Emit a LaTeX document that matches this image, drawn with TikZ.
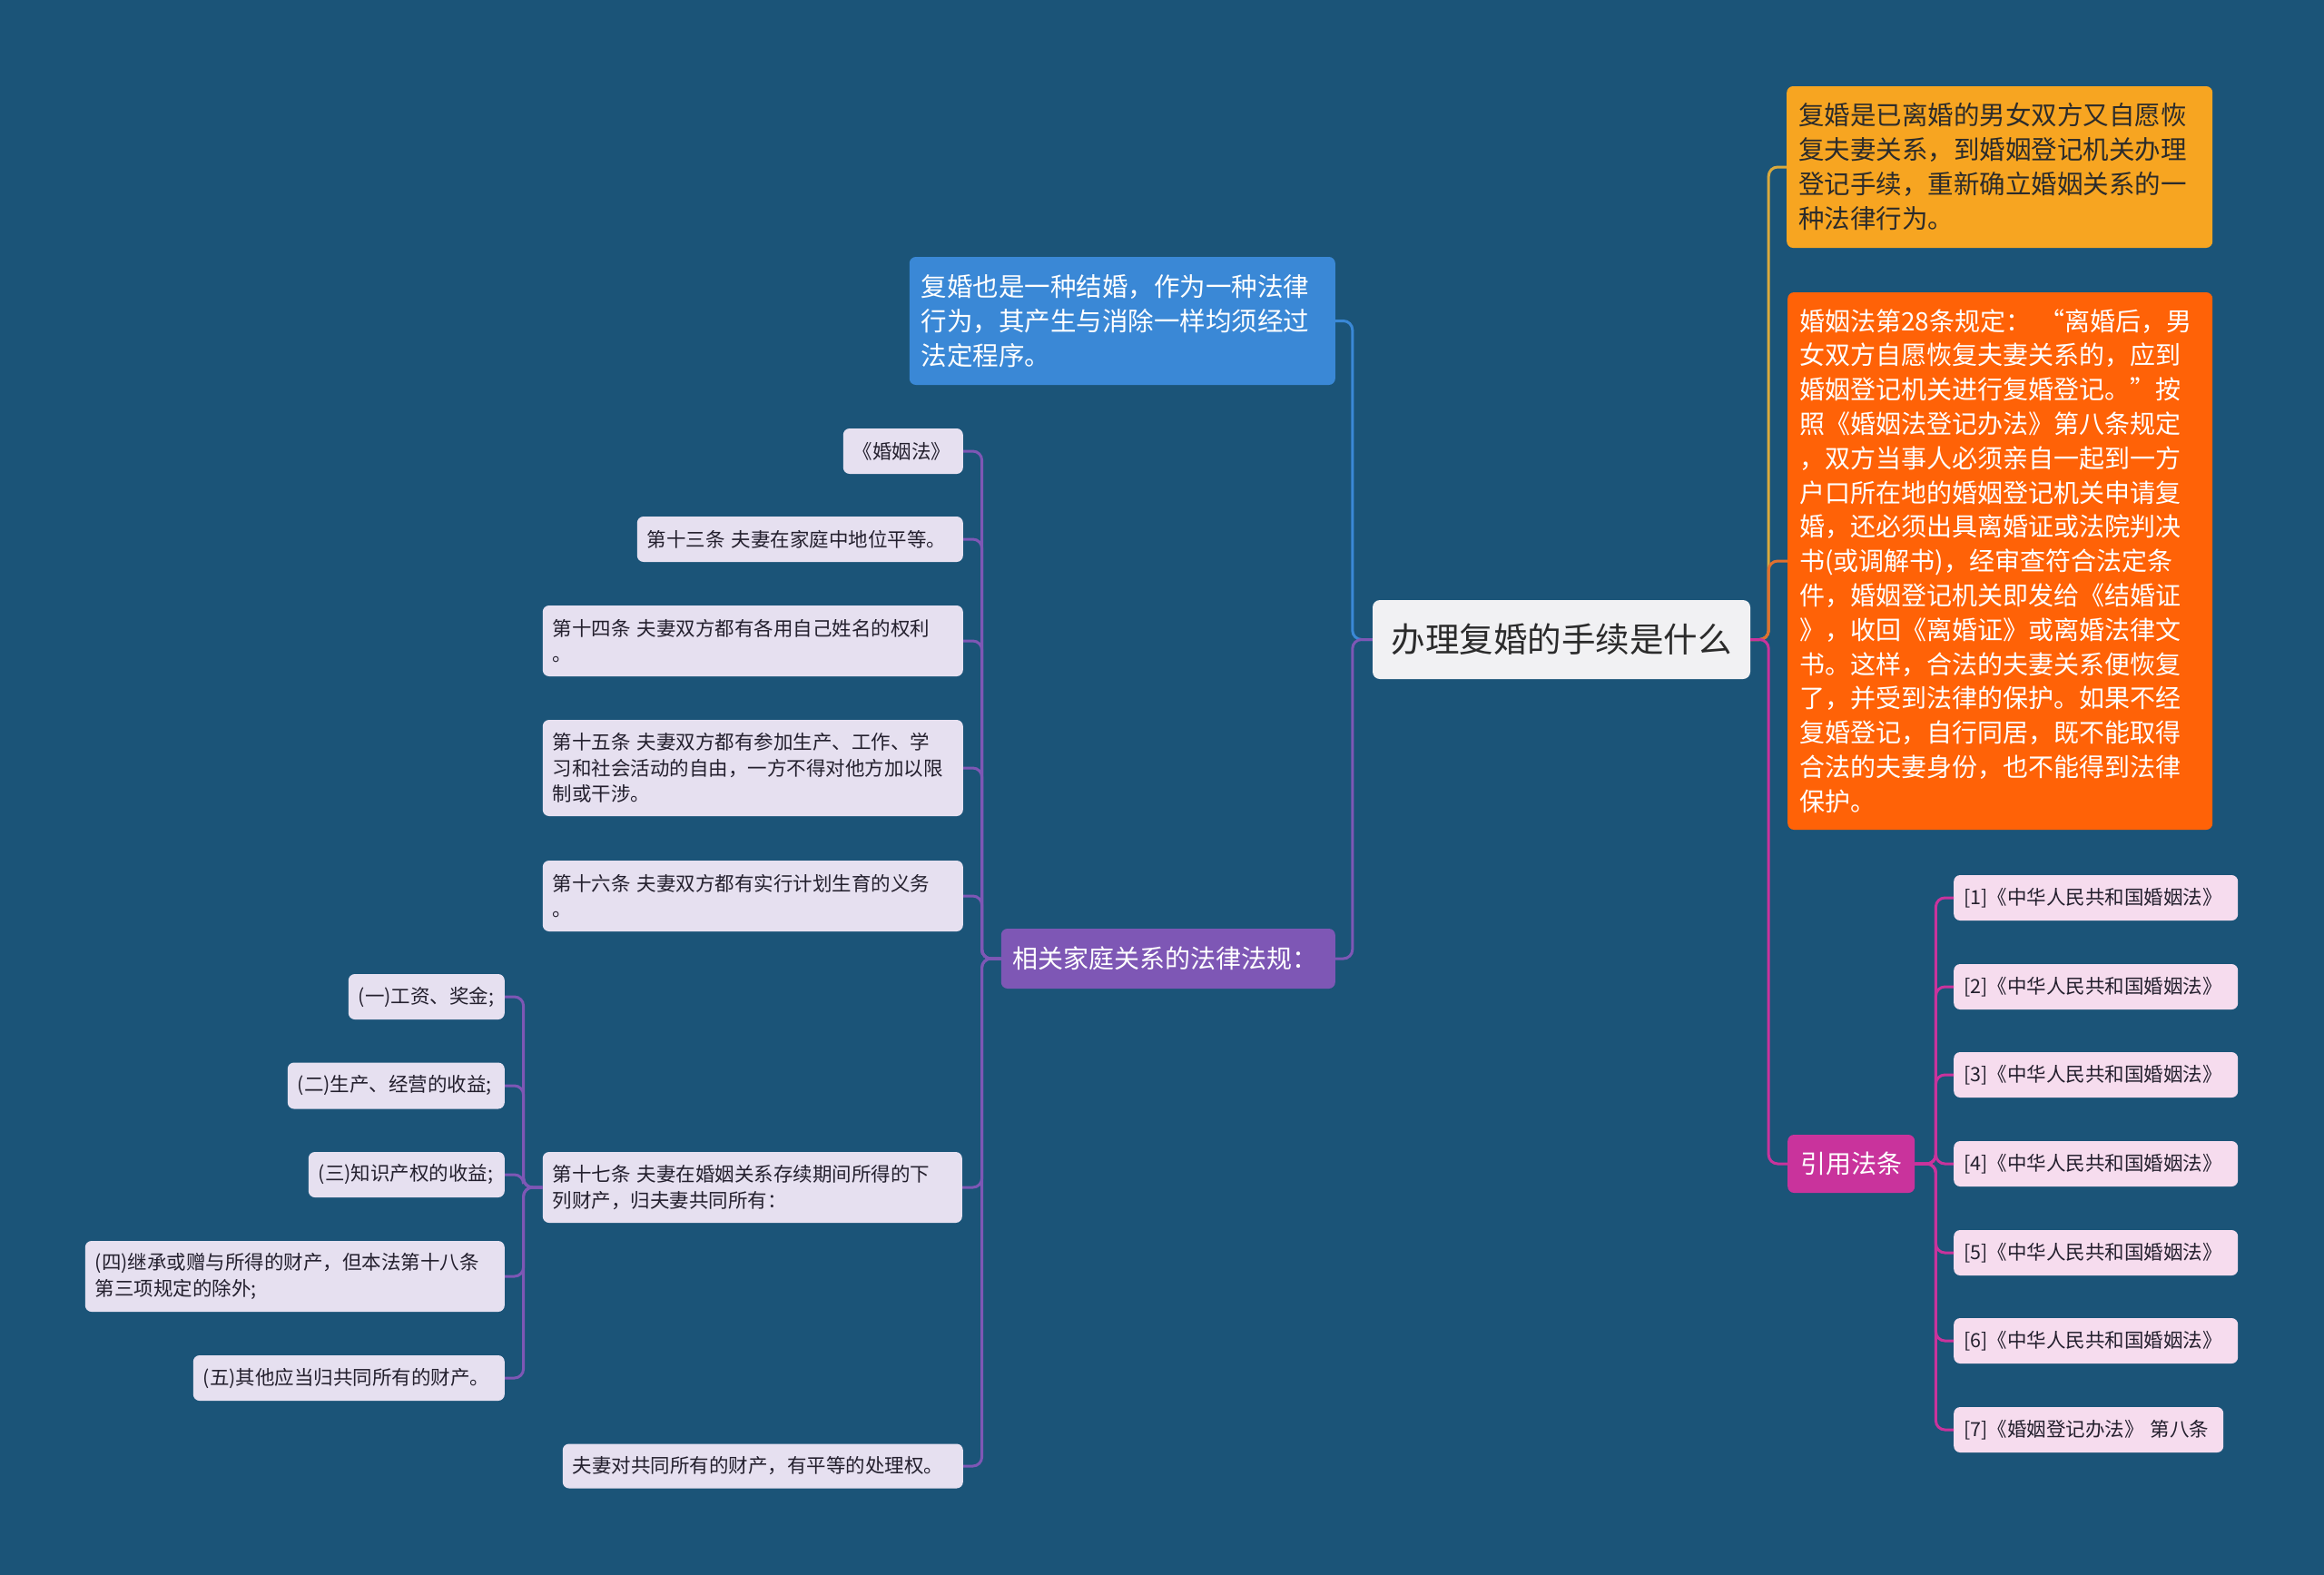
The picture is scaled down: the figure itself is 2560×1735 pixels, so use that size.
\documentclass[tikz,border=0pt]{standalone}
\usepackage{fontspec}
\setmainfont{Noto Sans CJK SC}

\definecolor{bgblue}{HTML}{1B5478}
\definecolor{rootfill}{HTML}{F1F1F3}
\definecolor{roottext}{HTML}{2B2B2B}
\definecolor{introfill}{HTML}{3A88D6}
\definecolor{lawfill}{HTML}{7E57B5}
\definecolor{lawleaf}{HTML}{E6E0F0}
\definecolor{deffill}{HTML}{F7A521}
\definecolor{defline}{HTML}{D9A93E}
\definecolor{regfill}{HTML}{FF6207}
\definecolor{regline}{HTML}{E0702F}
\definecolor{citefill}{HTML}{C9339C}
\definecolor{citeleaf}{HTML}{F6DCEE}
\definecolor{leaftext}{HTML}{24202E}

\tikzset{
  mmroot/.style={rounded corners=8pt, fill=rootfill, text=roottext, inner sep=0pt,
    font=\fontsize{37.5}{45}\selectfont},
  mmtopic/.style={rounded corners=7pt, inner xsep=13pt, inner ysep=0pt, align=left,
    font=\fontsize{28.5}{38}\selectfont},
  mmleaf/.style={rounded corners=7pt, inner xsep=11pt, inner ysep=0pt, align=left,
    text=leaftext, font=\fontsize{21.5}{28.5}\selectfont},
  mmedge/.style={line width=3pt, rounded corners=10pt}
}

\begin{document}
\begin{tikzpicture}[x=1pt, y=-1pt]
\fill[bgblue] (0,0) rectangle (2560,1735);
\useasboundingbox (0,0) rectangle (2560,1735);

\node[mmroot, minimum width=416pt, minimum height=87pt] (root) at (1720,704.5) {办理复婚的手续是什么};

\node[mmtopic, fill=introfill, text=white, text width=443pt, minimum height=141pt, anchor=east] (intro) at (1471,353.5)
  {复婚也是一种结婚，作为一种法律\\行为，其产生与消除一样均须经过\\法定程序。};
\node[mmtopic, fill=lawfill, text=white, text width=342pt, minimum height=66pt, anchor=east,
  font=\fontsize{28}{38}\selectfont] (law) at (1471,1056) {相关家庭关系的法律法规：};

\node[mmtopic, fill=deffill, text=roottext, text width=443pt, minimum height=178pt, anchor=west] (def) at (1968,184)
  {复婚是已离婚的男女双方又自愿恢\\复夫妻关系，到婚姻登记机关办理\\登记手续，重新确立婚姻关系的一\\种法律行为。};
\node[mmtopic, fill=regfill, text=white, text width=442pt, minimum height=592pt, anchor=west,
  font=\fontsize{28}{37.8}\selectfont] (reg) at (1969,618)
  {婚姻法第28条规定： “离婚后，男\\女双方自愿恢复夫妻关系的，应到\\婚姻登记机关进行复婚登记。”按\\照《婚姻法登记办法》第八条规定\\，双方当事人必须亲自一起到一方\\户口所在地的婚姻登记机关申请复\\婚，还必须出具离婚证或法院判决\\书(或调解书)，经审查符合法定条\\件，婚姻登记机关即发给《结婚证\\》，收回《离婚证》或离婚法律文\\书。这样，合法的夫妻关系便恢复\\了，并受到法律的保护。如果不经\\复婚登记，自行同居，既不能取得\\合法的夫妻身份，也不能得到法律\\保护。};
\node[mmtopic, fill=citefill, text=white, text width=114pt, minimum height=64pt, anchor=west, align=center,
  font=\fontsize{28}{38}\selectfont] (cite) at (1969,1282) {引用法条};

% laws
\node[mmleaf, fill=lawleaf, text width=110pt, minimum height=50pt, anchor=east] (l1) at (1061,497) {《婚姻法》};
\node[mmleaf, fill=lawleaf, text width=337pt, minimum height=50pt, anchor=east] (l2) at (1061,594) {第十三条 夫妻在家庭中地位平等。};
\node[mmleaf, fill=lawleaf, text width=441pt, minimum height=78pt, anchor=east] (l3) at (1061,706) {第十四条 夫妻双方都有各用自己姓名的权利\\。};
\node[mmleaf, fill=lawleaf, text width=441pt, minimum height=106pt, anchor=east] (l4) at (1061,846) {第十五条 夫妻双方都有参加生产、工作、学\\习和社会活动的自由，一方不得对他方加以限\\制或干涉。};
\node[mmleaf, fill=lawleaf, text width=441pt, minimum height=78pt, anchor=east] (l5) at (1061,987) {第十六条 夫妻双方都有实行计划生育的义务\\。};
\node[mmleaf, fill=lawleaf, text width=440pt, minimum height=78pt, anchor=east] (l6) at (1060,1308) {第十七条 夫妻在婚姻关系存续期间所得的下\\列财产，归夫妻共同所有：};
\node[mmleaf, fill=lawleaf, text width=419pt, minimum height=49pt, anchor=east] (l7) at (1061,1615) {夫妻对共同所有的财产，有平等的处理权。};

% property items
\node[mmleaf, fill=lawleaf, text width=150pt, minimum height=50pt, anchor=east] (p1) at (556,1098) {(一)工资、奖金;};
\node[mmleaf, fill=lawleaf, text width=217pt, minimum height=51pt, anchor=east] (p2) at (556,1196) {(二)生产、经营的收益;};
\node[mmleaf, fill=lawleaf, text width=194pt, minimum height=50pt, anchor=east] (p3) at (556,1294) {(三)知识产权的收益;};
\node[mmleaf, fill=lawleaf, text width=440pt, minimum height=78pt, anchor=east] (p4) at (556,1406) {(四)继承或赠与所得的财产，但本法第十八条\\第三项规定的除外;};
\node[mmleaf, fill=lawleaf, text width=321pt, minimum height=50pt, anchor=east] (p5) at (556,1518) {(五)其他应当归共同所有的财产。};

% references
\node[mmleaf, fill=citeleaf, text width=291pt, minimum height=50pt, anchor=west] (c1) at (2152,989) {[1]《中华人民共和国婚姻法》};
\node[mmleaf, fill=citeleaf, text width=291pt, minimum height=50pt, anchor=west] (c2) at (2152,1087) {[2]《中华人民共和国婚姻法》};
\node[mmleaf, fill=citeleaf, text width=291pt, minimum height=50pt, anchor=west] (c3) at (2152,1184) {[3]《中华人民共和国婚姻法》};
\node[mmleaf, fill=citeleaf, text width=291pt, minimum height=50pt, anchor=west] (c4) at (2152,1282) {[4]《中华人民共和国婚姻法》};
\node[mmleaf, fill=citeleaf, text width=291pt, minimum height=50pt, anchor=west] (c5) at (2152,1380) {[5]《中华人民共和国婚姻法》};
\node[mmleaf, fill=citeleaf, text width=291pt, minimum height=50pt, anchor=west] (c6) at (2152,1477) {[6]《中华人民共和国婚姻法》};
\node[mmleaf, fill=citeleaf, text width=275pt, minimum height=50pt, anchor=west] (c7) at (2152,1575) {[7]《婚姻登记办法》 第八条};

\draw[mmedge, draw=introfill] (root.west) -- ++(-22,0) |- (intro.east);
\draw[mmedge, draw=lawfill] (root.west) -- ++(-22,0) |- (law.east);

\draw[mmedge, draw=defline] (root.east) -- ++(20,0) |- (def.west);
\draw[mmedge, draw=regline] (root.east) -- ++(20,0) |- (reg.west);
\draw[mmedge, draw=citefill] (root.east) -- ++(20,0) |- (cite.west);

\draw[mmedge, draw=lawfill] (law.west) -- ++(-21,0) |- (l1.east);
\draw[mmedge, draw=lawfill] (law.west) -- ++(-21,0) |- (l2.east);
\draw[mmedge, draw=lawfill] (law.west) -- ++(-21,0) |- (l3.east);
\draw[mmedge, draw=lawfill] (law.west) -- ++(-21,0) |- (l4.east);
\draw[mmedge, draw=lawfill] (law.west) -- ++(-21,0) |- (l5.east);
\draw[mmedge, draw=lawfill] (law.west) -- ++(-21,0) |- (l6.east);
\draw[mmedge, draw=lawfill] (law.west) -- ++(-21,0) |- (l7.east);

\draw[mmedge, draw=lawfill] (l6.west) -- ++(-21,0) |- (p1.east);
\draw[mmedge, draw=lawfill] (l6.west) -- ++(-21,0) |- (p2.east);
\draw[mmedge, draw=lawfill] (l6.west) -- ++(-21,0) |- (p3.east);
\draw[mmedge, draw=lawfill] (l6.west) -- ++(-21,0) |- (p4.east);
\draw[mmedge, draw=lawfill] (l6.west) -- ++(-21,0) |- (p5.east);

\draw[mmedge, draw=citefill] (cite.east) -- ++(23,0) |- (c1.west);
\draw[mmedge, draw=citefill] (cite.east) -- ++(23,0) |- (c2.west);
\draw[mmedge, draw=citefill] (cite.east) -- ++(23,0) |- (c3.west);
\draw[mmedge, draw=citefill] (cite.east) -- ++(23,0) |- (c4.west);
\draw[mmedge, draw=citefill] (cite.east) -- ++(23,0) |- (c5.west);
\draw[mmedge, draw=citefill] (cite.east) -- ++(23,0) |- (c6.west);
\draw[mmedge, draw=citefill] (cite.east) -- ++(23,0) |- (c7.west);
\end{tikzpicture}
\end{document}
